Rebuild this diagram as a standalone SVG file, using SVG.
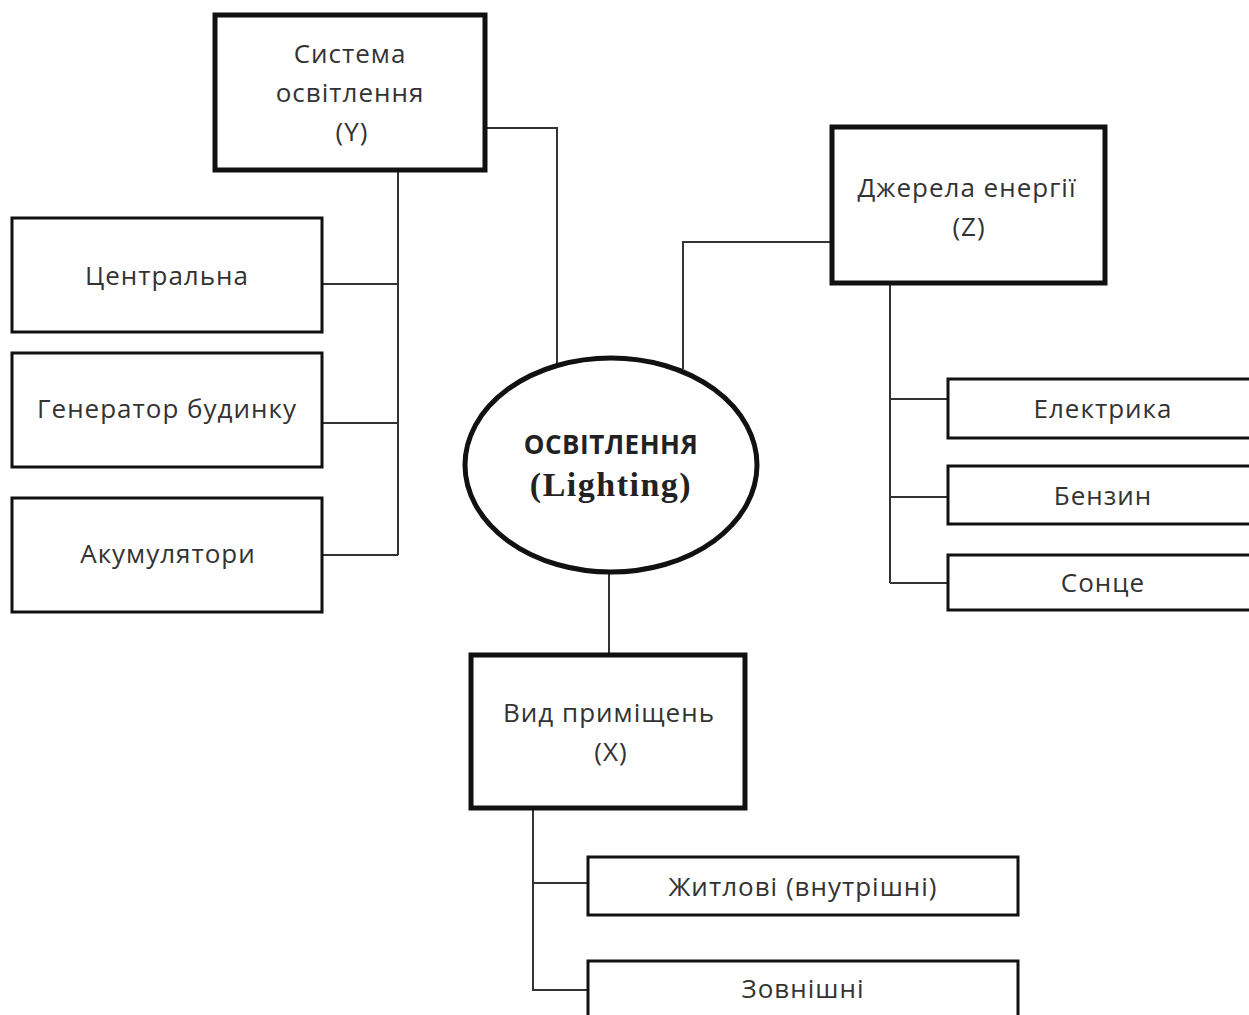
<svg xmlns="http://www.w3.org/2000/svg" width="1249" height="1015" viewBox="0 0 1249 1015">
  <style>
    .bg { fill: #ffffff; }
    .main { fill: #ffffff; stroke: #111111; stroke-width: 5; }
    .leaf { fill: #ffffff; stroke: #111111; stroke-width: 3; }
    .hub { fill: #ffffff; stroke: #111111; stroke-width: 5; }
    .wire { fill: none; stroke: #333333; stroke-width: 2; }
    .lbl { font-family: "Open Sans", "Noto Sans", "DejaVu Sans", sans-serif; font-size: 26px; letter-spacing: 1px; fill: #333333; text-anchor: middle; }
    .hubt { font-family: "Open Sans", "Noto Sans", "DejaVu Sans", sans-serif; font-size: 26px; letter-spacing: 0.5px; font-weight: bold; fill: #222222; text-anchor: middle; }
    .hubs { font-family: "Liberation Serif", "Times New Roman", serif; font-size: 34px; letter-spacing: 1.5px; font-weight: bold; fill: #222222; text-anchor: middle; }
  </style>

  <rect class="bg" x="0" y="0" width="1249" height="1015"/>

  <!-- connectors -->
  <g id="connectors">
    <!-- centre to lighting system (Y) -->
    <polyline class="wire" points="485,128 557,128 557,364"/>
    <!-- Y to its three options -->
    <polyline class="wire" points="398,170 398,555"/>
    <line class="wire" x1="322" y1="284" x2="398" y2="284"/>
    <line class="wire" x1="322" y1="423" x2="398" y2="423"/>
    <line class="wire" x1="322" y1="555" x2="398" y2="555"/>
    <!-- centre to energy sources (Z) -->
    <polyline class="wire" points="683,369 683,242 832,242"/>
    <!-- Z to its three options -->
    <polyline class="wire" points="890,283 890,583"/>
    <line class="wire" x1="890" y1="399" x2="948" y2="399"/>
    <line class="wire" x1="890" y1="497" x2="948" y2="497"/>
    <line class="wire" x1="890" y1="583" x2="948" y2="583"/>
    <!-- centre to premises type (X) -->
    <line class="wire" x1="609" y1="572" x2="609" y2="655"/>
    <!-- X to its two options -->
    <polyline class="wire" points="533,808 533,990 588,990"/>
    <line class="wire" x1="533" y1="883" x2="588" y2="883"/>
  </g>

  <!-- central ellipse -->
  <g id="node-lighting">
    <ellipse class="hub" cx="611" cy="465" rx="146" ry="107"/>
    <text class="hubt" x="611" y="454">ОСВІТЛЕННЯ</text>
    <text class="hubs" x="611" y="496">(Lighting)</text>
  </g>

  <!-- lighting system -->
  <g id="node-y">
    <rect class="main" x="215" y="15" width="270" height="155"/>
    <text class="lbl" x="350" y="63">Система</text>
    <text class="lbl" x="350" y="102">освітлення</text>
    <text class="lbl" x="352" y="141">(Y)</text>
  </g>
  <g id="node-central">
    <rect class="leaf" x="12" y="218" width="310" height="114"/>
    <text class="lbl" x="167" y="285">Центральна</text>
  </g>
  <g id="node-generator">
    <rect class="leaf" x="12" y="353" width="310" height="114"/>
    <text class="lbl" x="167" y="418">Генератор будинку</text>
  </g>
  <g id="node-batteries">
    <rect class="leaf" x="12" y="498" width="310" height="114"/>
    <text class="lbl" x="168" y="563">Акумулятори</text>
  </g>

  <!-- energy sources -->
  <g id="node-z">
    <rect class="main" x="832" y="127" width="273" height="156"/>
    <text class="lbl" x="967" y="197">Джерела енергії</text>
    <text class="lbl" x="969" y="236">(Z)</text>
  </g>
  <g id="node-electric">
    <rect class="leaf" x="948" y="379" width="312" height="59"/>
    <text class="lbl" x="1103" y="418">Електрика</text>
  </g>
  <g id="node-petrol">
    <rect class="leaf" x="948" y="466" width="312" height="58"/>
    <text class="lbl" x="1103" y="505">Бензин</text>
  </g>
  <g id="node-sun">
    <rect class="leaf" x="948" y="555" width="312" height="55"/>
    <text class="lbl" x="1103" y="592">Сонце</text>
  </g>

  <!-- premises type -->
  <g id="node-x">
    <rect class="main" x="471" y="655" width="274" height="153"/>
    <text class="lbl" x="609" y="722">Вид приміщень</text>
    <text class="lbl" x="611" y="761">(X)</text>
  </g>
  <g id="node-residential">
    <rect class="leaf" x="588" y="857" width="430" height="58"/>
    <text class="lbl" x="803" y="896">Житлові (внутрішні)</text>
  </g>
  <g id="node-outdoor">
    <rect class="leaf" x="588" y="961" width="430" height="70"/>
    <text class="lbl" x="803" y="998">Зовнішні</text>
  </g>
</svg>
